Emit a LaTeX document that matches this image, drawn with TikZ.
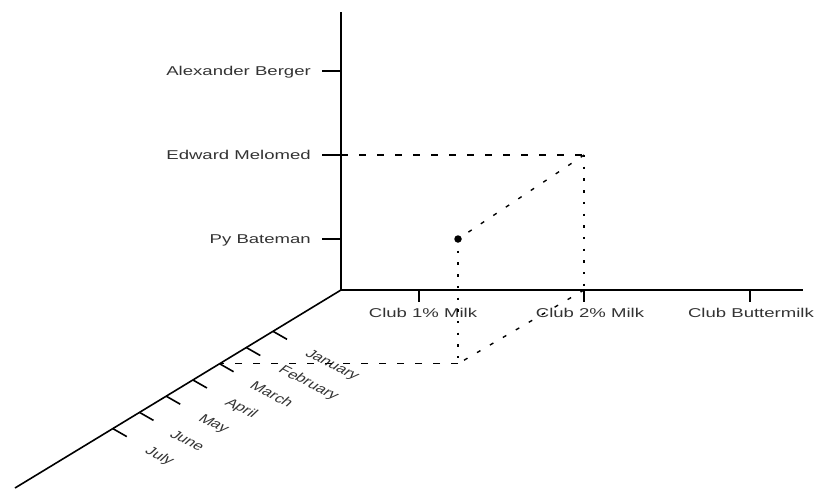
\documentclass[tikz,border=0pt]{standalone}
\usepackage{fontspec}
\usepackage{graphicx}
\setmainfont{Liberation Sans}
\usetikzlibrary{calc}

% wide (horizontally stretched) label text, optionally slanted along the time axis
\newcommand{\widetext}[1]{\scalebox{1.45}[1]{#1}}
\newcommand{\monthtext}[1]{\scalebox{1.45}[1]{\rotatebox{-36}{#1}}}

\begin{document}
\begin{tikzpicture}[x=1pt,y=-1pt,
  axis/.style={line width=1.6pt, line cap=butt},
  tickmark/.style={line width=1.6pt},
  lbl/.style={inner sep=0pt, font=\fontsize{12.8}{14}\selectfont, text=black!80},
  monthlbl/.style={inner sep=0pt, anchor=north west, font=\fontsize{12}{14}\selectfont, text=black!80},
  hguide/.style={line width=1.3pt, dash pattern=on 7pt off 11pt},
  dguide/.style={line width=1.4pt, dash pattern=on 4pt off 11pt},
  vguide/.style={line width=2.4pt, dash pattern=on 2.4pt off 9.3pt},
  dot/.style={circle, fill=black, inner sep=0pt, minimum size=7.5pt},
]
\useasboundingbox (0,0) rectangle (825,488);

% axes
\coordinate (O) at (341,290);
\coordinate (top) at (341,12);
\coordinate (right) at (803,290);
\coordinate (far) at (15,488);
\draw[axis] (top) -- (O) -- (right);
\draw[axis] (O) -- (far);

% vertical axis: people
\foreach \name/\yy/\txt in {ab/71/Alexander Berger, em/155/Edward Melomed, pb/239/Py Bateman}{
  \coordinate (y-\name) at (341,\yy);
  \draw[tickmark] (y-\name) -- ++(-19,0);
  \node[lbl, anchor=base east] (l-\name) at (311,\yy+4) {\widetext{\txt}};
}

% horizontal axis: products
\foreach \name/\xx/\txt in {c1/419/Club 1\% Milk, c2/584/Club 2\% Milk, cb/750/Club Buttermilk}{
  \coordinate (x-\name) at (\xx,290);
  \draw[tickmark] (x-\name) -- ++(0,12);
}
\node[lbl, anchor=base] (l-c1) at (423,317) {\widetext{Club 1\% Milk}};
\node[lbl, anchor=base] (l-c2) at (590,317) {\widetext{Club 2\% Milk}};
\node[lbl, anchor=base] (l-cb) at (751,317) {\widetext{Club Buttermilk}};

% depth axis: months
\foreach \k/\txt in {0/January, 1/February, 2/March, 3/April, 4/May, 5/June, 6/July}{
  \pgfmathsetmacro{\t}{(68+26.7*\k)/326}
  \coordinate (m\k) at ($(O)!\t!(far)$);
  \draw[tickmark] (m\k) -- ++(14,8);
  \node[monthlbl] (l-m\k) at ($(m\k)+(29,17)$) {\monthtext{\txt}};
}

% the highlighted cell and its guide lines
\node[dot] (p) at (458,239) {};
\coordinate (tc) at (584,155);
\coordinate (pbase) at (p |- m2);
\draw[hguide] (y-em) -- (tc);
\draw[vguide] (tc) -- (x-c2);
\draw[dguide] (tc) -- (p.center);
\draw[vguide] (p.center) -- (pbase);
\draw[dguide] (x-c2) -- (pbase);
\draw[hguide] (pbase) -- (m2);
\end{tikzpicture}
\end{document}
